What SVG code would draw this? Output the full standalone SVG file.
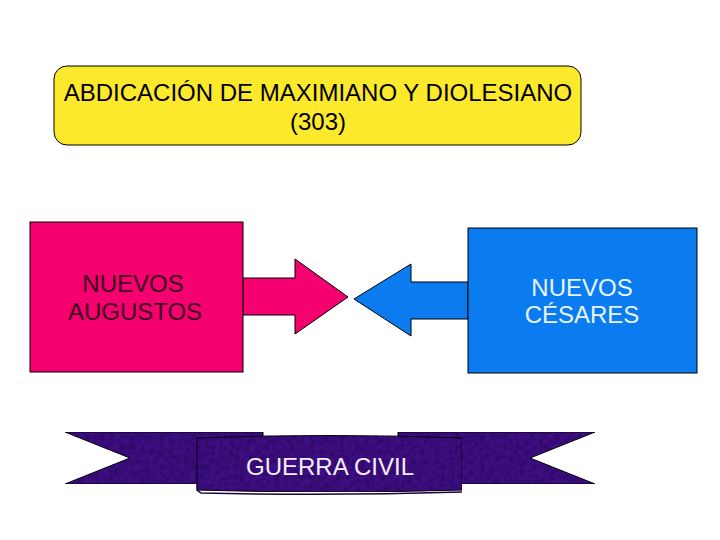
<svg xmlns="http://www.w3.org/2000/svg" width="720" height="540" viewBox="0 0 720 540">
<style>
.t{font-family:"Liberation Sans",Arial,sans-serif;font-size:24px;text-anchor:middle}
.k{stroke:#000;stroke-width:1}
.rib{fill:#3e0e82}
</style>
<defs>
<filter id="tex" x="0" y="0" width="100%" height="100%" color-interpolation-filters="sRGB">
<feTurbulence type="fractalNoise" baseFrequency="0.2" numOctaves="3" seed="4" result="n"/>
<feColorMatrix in="n" type="matrix" values="0 0 0 0 0.14  0 0 0 0 0.02  0 0 0 0 0.33  0 0 0 1.4 -0.5" result="c"/>
<feComposite in="c" in2="SourceGraphic" operator="in" result="m"/>
<feMerge><feMergeNode in="SourceGraphic"/><feMergeNode in="m"/></feMerge>
</filter>
</defs>
<rect width="720" height="540" fill="#fff"/>
<g id="abdicacion">
<rect x="54" y="66" width="527" height="79" rx="13" fill="#fde92b" class="k"/>
<text class="t" x="318" y="101" fill="#000">ABDICACIÓN DE MAXIMIANO Y DIOLESIANO</text>
<text class="t" x="318" y="130" fill="#000">(303)</text>
</g>
<g id="connectors">
<polygon points="243,278 295,278 295,259 348,297 295,334 295,315 243,315" fill="#f5006f" class="k"/>
<polygon points="468,282 411,282 411,264 354,299 411,336 411,319 468,319" fill="#0b7bf0" class="k"/>
</g>
<g id="augustos">
<rect x="30" y="222" width="213" height="150" fill="#f5006f" class="k"/>
<text class="t" x="133" y="292" fill="#3a0020">NUEVOS</text>
<text class="t" x="135" y="320" fill="#3a0020">AUGUSTOS</text>
</g>
<g id="cesares">
<rect x="468" y="228" width="229" height="145" fill="#0b7bf0" class="k"/>
<text class="t" x="582" y="296" fill="#e8f4ff">NUEVOS</text>
<text class="t" x="582" y="323" fill="#e8f4ff">CÉSARES</text>
</g>
<g id="guerra">
<polygon points="65,432 263,432 263,484 65,484 130,458" class="rib k" filter="url(#tex)"/>
<polygon points="398,432 595,432 530,458 595,484 398,484" class="rib k" filter="url(#tex)"/>
<path d="M197,438 L263,438 L263,432 M398,432 L398,438 L462,438" fill="none" class="k"/>
<path d="M197,438 Q330,433 462,438 L462,490 Q330,494 197,490 Z" class="rib k" filter="url(#tex)"/>
<path d="M197,438 L197,490 L201,493 Q330,496 462,492" fill="none" stroke="#1a0538" stroke-width="1.5"/>
<text class="t" x="330" y="475" fill="#f4eefc">GUERRA CIVIL</text>
</g>
</svg>
